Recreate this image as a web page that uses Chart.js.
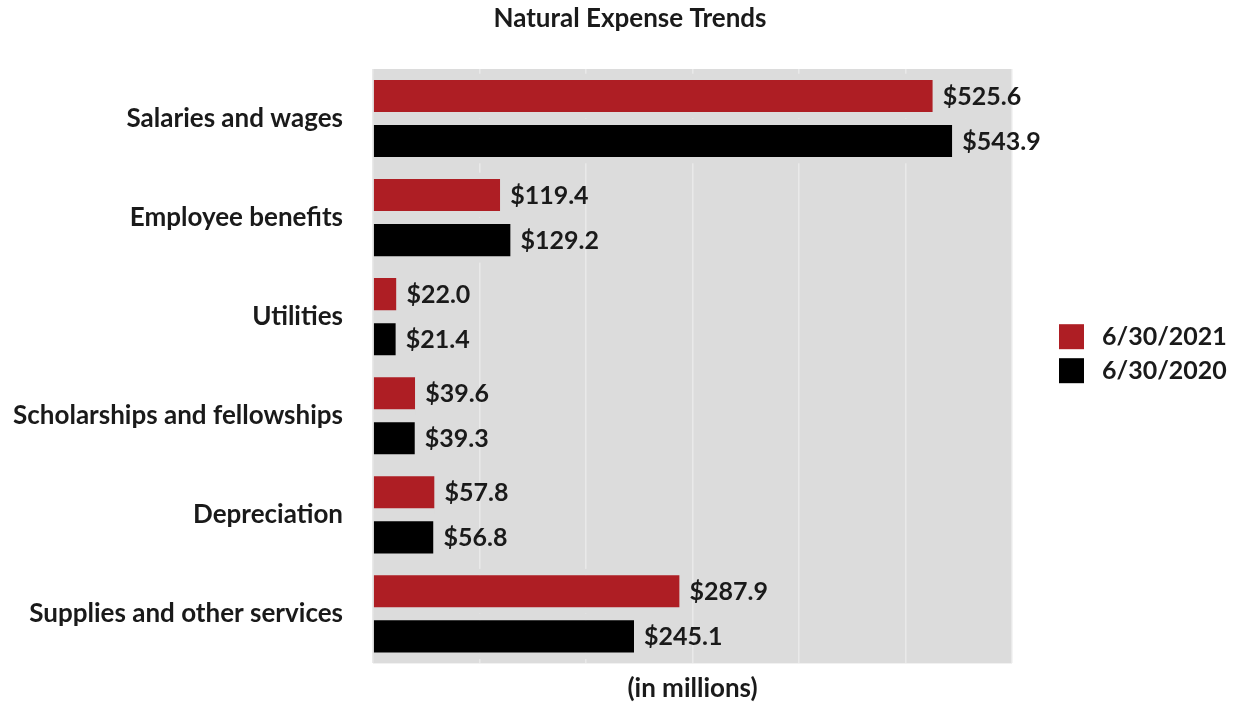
<!DOCTYPE html>
<html>
<head>
<meta charset="utf-8">
<script src="https://cdn.jsdelivr.net/npm/chart.js@4.4.0/dist/chart.umd.min.js"></script>
<style>
  body { margin: 0; background: #fff; }
  canvas { display: block; }
</style>
</head>
<body>
<canvas id="chart" width="1235" height="709"></canvas>
<script>
// Data
const categories = [
    'Salaries and wages',
    'Employee benefits',
    'Utilities',
    'Scholarships and fellowships',
    'Depreciation',
    'Supplies and other services'
];
const seriesNames = ['6/30/2021', '6/30/2020'];
const values2021 = [525.6, 119.4, 22.0, 39.6, 57.8, 287.9];
const values2020 = [543.9, 129.2, 21.4, 39.3, 56.8, 245.1];

const chartTitle = 'Natural Expense Trends';
const plotGray = '#dcdcdc';
const textColor = '#1a1a1a';
const FONT = 'Lato, "Open Sans", sans-serif';

// Fill the plot area grey
const plotBackground = {
    id: 'plotBackground',
    beforeDraw(chart) {
        const { ctx, chartArea } = chart;
        ctx.save();
        ctx.fillStyle = plotGray;
        ctx.fillRect(chartArea.left, chartArea.top, chartArea.right - chartArea.left, chartArea.bottom - chartArea.top);
        ctx.restore();
    }
};

// Value labels at the end of each bar
const valueLabels = {
    id: 'valueLabels',
    afterDatasetsDraw(chart) {
        const { ctx } = chart;
        ctx.save();
        ctx.font = 'bold 25px ' + FONT;
        ctx.fillStyle = textColor;
        ctx.textAlign = 'left';
        ctx.textBaseline = 'middle';
        chart.data.datasets.forEach((ds, i) => {
            chart.getDatasetMeta(i).data.forEach((bar, j) => {
                ctx.fillText('$' + ds.data[j].toFixed(1), bar.x + 10, bar.y + 1);
            });
        });
        ctx.restore();
    }
};

// Title (sits a little left of the plot centre) and the legend to the right
const titleAndLegend = {
    id: 'titleAndLegend',
    afterDraw(chart) {
        const { ctx, chartArea } = chart;
        ctx.save();
        ctx.fillStyle = textColor;
        ctx.font = 'bold 26px ' + FONT;
        ctx.textAlign = 'center';
        ctx.textBaseline = 'middle';
        ctx.fillText(chartTitle, 630, 19);

        const boxX = chartArea.right + 47;
        const midY = (chartArea.top + chartArea.bottom) / 2 - 8;
        const rowH = 34;
        ctx.font = 'bold 25px ' + FONT;
        ctx.textAlign = 'left';
        chart.data.datasets.forEach((ds, i) => {
            const y = midY - rowH + i * rowH;
            ctx.fillStyle = ds.backgroundColor;
            ctx.fillRect(boxX, y, 25, 25);
            ctx.fillStyle = textColor;
            ctx.fillText(ds.label, boxX + 43, y + 13);
        });
        ctx.restore();
    }
};

const barBorder = { top: 6.5, bottom: 6.5, left: 0, right: 0 };

new Chart(document.getElementById('chart'), {
    type: 'bar',
    data: {
        labels: categories,
        datasets: [
            {
                label: seriesNames[0],
                data: values2021,
                backgroundColor: '#ae1e24',
                borderColor: plotGray,
                borderWidth: barBorder,
                borderSkipped: false
            },
            {
                label: seriesNames[1],
                data: values2020,
                backgroundColor: '#000000',
                borderColor: plotGray,
                borderWidth: barBorder,
                borderSkipped: false
            }
        ]
    },
    options: {
        indexAxis: 'y',
        responsive: false,
        animation: false,
        datasets: {
            bar: { categoryPercentage: 0.91, barPercentage: 1 }
        },
        layout: { padding: { left: 0, right: 223, top: 69, bottom: 0 } },
        scales: {
            x: {
                min: 0,
                max: 600,
                ticks: { display: false, stepSize: 100 },
                grid: { color: '#e9e9e9', lineWidth: 1.5, drawTicks: false },
                border: { display: false },
                title: {
                    display: true,
                    text: '(in millions)',
                    color: textColor,
                    font: { family: FONT, size: 26, weight: 'bold' },
                    padding: { top: 10, bottom: 0 }
                }
            },
            y: {
                grid: { display: false, drawTicks: false },
                border: { display: false },
                ticks: {
                    color: textColor,
                    padding: 30,
                    font: { family: FONT, size: 26, weight: 'bold' }
                },
                afterFit(scale) { scale.width = 373; }
            }
        },
        plugins: {
            title: { display: false },
            legend: { display: false },
            tooltip: { enabled: false }
        }
    },
    plugins: [plotBackground, valueLabels, titleAndLegend]
});
</script>
</body>
</html>
